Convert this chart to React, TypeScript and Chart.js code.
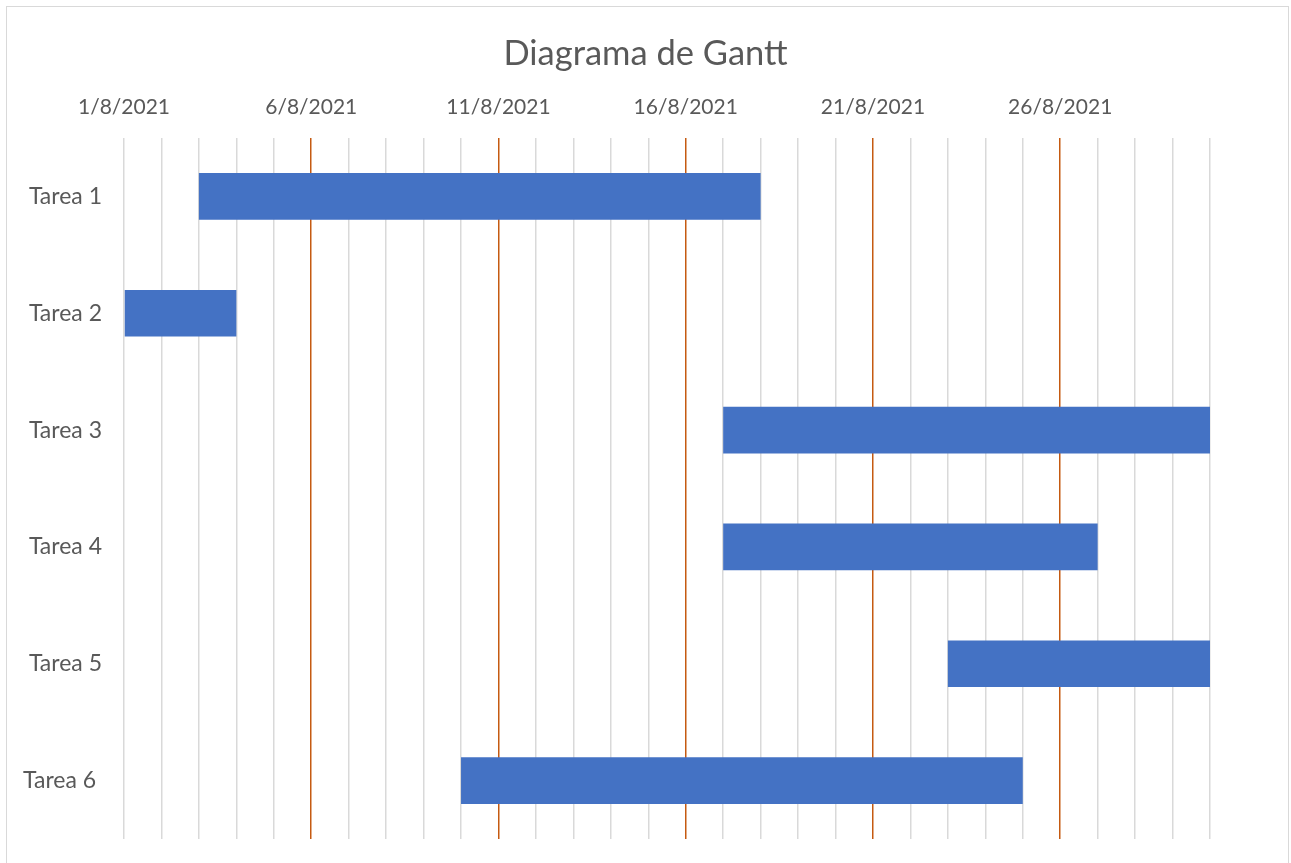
import React, { useEffect, useRef } from "react";
import { Chart, registerables } from "chart.js";

Chart.register(...registerables);

// Tasks, their start dates (August 2021) and their durations in days
const tasks = ["Tarea 1", "Tarea 2", "Tarea 3", "Tarea 4", "Tarea 5", "Tarea 6 "];
const startDays = [3, 1, 17, 17, 23, 10];
const durations = [15, 3, 13, 10, 7, 15];

// Timeline: 1/8/2021 .. 30/8/2021, labelled every 5 days
const firstDay = 1;
const lastDay = 30;
const labelEvery = 5;
const monthYear = "8/2021";

const FONT = "Lato, 'Open Sans', sans-serif";
const TEXT = "#595959";
const TITLE_SIZE = 34.5;
const TITLE_TOP = 33;

export default function App() {
  const canvasRef = useRef<HTMLCanvasElement | null>(null);

  useEffect(() => {
    const canvas = canvasRef.current;
    if (!canvas) return;

    const bars = startDays.map((s, i) => [s - firstDay, s - firstDay + durations[i]]);

    const chart = new Chart(canvas, {
      type: "bar",
      data: {
        labels: tasks,
        datasets: [
          {
            data: bars as any,
            backgroundColor: "#4472C4",
            borderWidth: 0,
            barPercentage: 0.4,
            categoryPercentage: 1,
          },
        ],
      },
      options: {
        indexAxis: "y",
        responsive: false,
        animation: false,
        layout: { padding: { left: 0, right: 0, top: 0, bottom: 24 } },
        plugins: {
          legend: { display: false },
          tooltip: { enabled: false },
          title: {
            display: true,
            text: "Diagrama de Gantt",
            color: TEXT,
            font: { family: FONT, size: TITLE_SIZE, weight: "normal" },
            padding: { top: TITLE_TOP, bottom: 0 },
          },
        },
        scales: {
          x: {
            type: "linear",
            position: "top",
            min: 0,
            max: lastDay - firstDay,
            afterFit: (scale: any) => {
              scale.height = 138 - TITLE_TOP - TITLE_SIZE * 1.2;
            },
            border: { display: false },
            grid: {
              drawTicks: false,
              lineWidth: 1.5,
              color: (ctx: any) => {
                const v = ctx.tick ? ctx.tick.value : 0;
                return v > 0 && v % labelEvery === 0 ? "#C55A11" : "#D9D9D9";
              },
            },
            ticks: {
              stepSize: 1,
              autoSkip: false,
              maxRotation: 0,
              padding: 18,
              color: TEXT,
              font: { family: FONT, size: 21 },
              callback: (value: any) => {
                const v = Number(value);
                return v % labelEvery === 0 ? `${v + firstDay}/${monthYear}` : "";
              },
            },
          },
          y: {
            afterFit: (scale: any) => {
              scale.width = 124;
              scale.paddingTop = 0;
              scale.paddingBottom = 0;
            },
            border: { display: false },
            grid: { display: false, drawTicks: false },
            ticks: {
              padding: 22,
              color: TEXT,
              font: { family: FONT, size: 23 },
            },
          },
          // empty right-hand margin beside the timeline
          yRight: {
            type: "category",
            position: "right",
            labels: tasks,
            afterFit: (scale: any) => {
              scale.width = 81;
              scale.paddingTop = 0;
              scale.paddingBottom = 0;
            },
            border: { display: false },
            grid: { display: false, drawTicks: false },
            ticks: { display: false },
          },
        },
      },
    });

    return () => chart.destroy();
  }, []);

  return (
    <div
      style={{
        position: "fixed",
        left: 0,
        top: 0,
        width: 1291,
        height: 863,
        overflow: "hidden",
        background: "#ffffff",
      }}
    >
      <div
        style={{
          position: "absolute",
          left: 6,
          top: 6,
          width: 1281,
          height: 900,
          border: "1.5px solid #D9D9D9",
        }}
      />
      <canvas
        ref={canvasRef}
        width={1291}
        height={863}
        style={{ position: "absolute", left: 0, top: 0, width: 1291, height: 863 }}
      />
    </div>
  );
}
